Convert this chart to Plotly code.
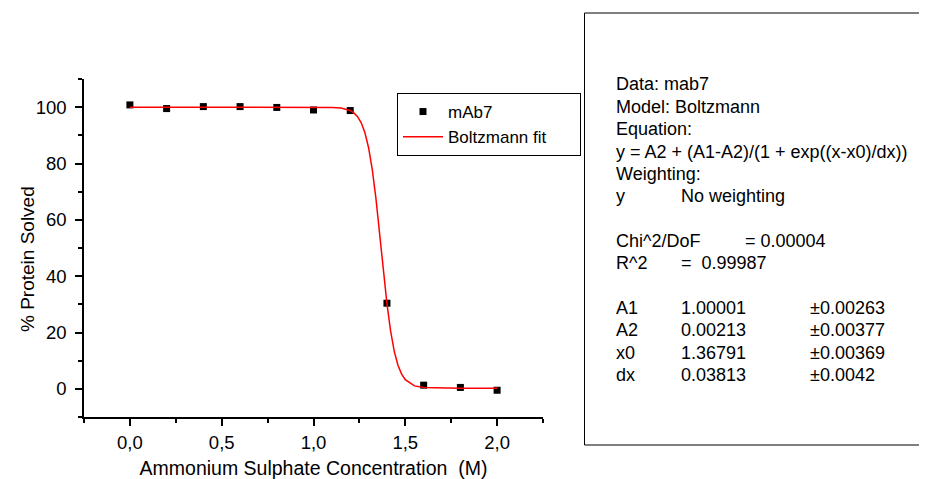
import plotly.graph_objects as go

# ---- data ----
conc = [0.0, 0.2, 0.4, 0.6, 0.8, 1.0, 1.2, 1.4, 1.6, 1.8, 2.0]
solved = [100.8, 99.5, 100.2, 100.2, 99.9, 99.0, 98.8, 30.4, 1.3, 0.5, -0.5]

fit_x = [0.0, 0.2, 0.4, 0.6, 0.8, 1.0, 1.1, 1.15, 1.2, 1.22, 1.24, 1.26, 1.28,
         1.30, 1.32, 1.34, 1.36, 1.38, 1.40, 1.42, 1.44, 1.46, 1.48, 1.50,
         1.55, 1.60, 1.70, 1.80, 2.0]
fit_y = [100.0, 100.0, 100.0, 100.0, 100.0, 99.99, 99.91, 99.67, 98.79, 97.98,
         96.64, 94.44, 90.95, 85.61, 77.89, 67.59, 55.26, 42.26, 30.27, 20.49,
         13.30, 8.40, 5.23, 3.24, 1.05, 0.44, 0.23, 0.21, 0.21]

x_tickvals = [0.0, 0.5, 1.0, 1.5, 2.0]
y_tickvals = [0, 20, 40, 60, 80, 100]

info_col1 = ["Data: mab7", "Model: Boltzmann", "Equation:",
             "y = A2 + (A1-A2)/(1 + exp((x-x0)/dx))", "Weighting:", "y",
             "Chi^2/DoF", "R^2", "A1", "A2", "x0", "dx"]
info_col2 = {"y": "No weighting", "Chi^2/DoF": "= 0.00004", "R^2": "=  0.99987",
             "A1": "1.00001", "A2": "0.00213", "x0": "1.36791", "dx": "0.03813"}
info_col3 = {"A1": "\u00b10.00263", "A2": "\u00b10.00377", "x0": "\u00b10.00369",
             "dx": "\u00b10.0042"}

# the page has an 8px body margin; lay out in window pixels
OFF = 8
W, H = 927 - OFF, 479 - OFF
FONT = "Liberation Sans, Arial, sans-serif"

def px(x):
    return (x - OFF) / W

def py(y):
    return 1 - (y - OFF) / H

PAD = "\u00a0" * 6

fig = go.Figure()
fig.add_trace(go.Scatter(
    x=conc, y=solved, mode="markers", name="mAb7",
    marker=dict(symbol="square", size=7, color="black"),
))
fig.add_trace(go.Scatter(
    x=fit_x, y=fit_y, mode="lines", name="Boltzmann fit" + PAD,
    line=dict(color="#ff0000", width=1.5),
))

axis_common = dict(
    showline=True, linecolor="black", linewidth=1.5,
    ticks="outside", ticklen=7, tickwidth=1.5, tickcolor="black",
    showgrid=False, zeroline=False, mirror=False,
    tickfont=dict(family=FONT, size=18.5, color="black"),
    automargin=False,
)

fig.update_layout(
    width=W, height=H,
    margin=dict(l=0, r=0, t=0, b=0),
    paper_bgcolor="white", plot_bgcolor="white",
    separators=",.",
    font=dict(family=FONT, size=18, color="black"),
    xaxis=dict(
        domain=[px(84), px(543)], range=[-0.25, 2.25],
        tickmode="array", tickvals=x_tickvals, tickformat=".1f",
        ticklabelstandoff=1,
        minor=dict(dtick=0.25, tick0=-0.25, ticklen=4, tickwidth=1.5,
                   tickcolor="black", ticks="outside"),
        title=dict(text="Ammonium Sulphate Concentration  (M)",
                   font=dict(family=FONT, size=19.5), standoff=15),
        **axis_common,
    ),
    yaxis=dict(
        domain=[py(417), py(79)], range=[-10, 110],
        tickmode="array", tickvals=y_tickvals,
        ticklabelstandoff=5,
        minor=dict(dtick=10, tick0=-10, ticklen=4, tickwidth=1.5,
                   tickcolor="black", ticks="outside"),
        **axis_common,
    ),
    legend=dict(
        x=px(397), y=py(93), xanchor="left", yanchor="top",
        bordercolor="black", borderwidth=1, bgcolor="white",
        font=dict(family=FONT, size=17, color="black"),
        itemwidth=40,
    ),
    showlegend=True,
)

# y-axis title placed where the reference has it
fig.add_annotation(x=px(27), y=py(259), xref="paper", yref="paper",
                   text="% Protein Solved", textangle=-90, showarrow=False,
                   xanchor="center", yanchor="middle",
                   font=dict(family=FONT, size=19))

# info box
fig.add_shape(type="rect", xref="paper", yref="paper",
              x0=px(584.5), x1=px(940), y0=py(445), y1=py(13),
              line=dict(color="black", width=1), fillcolor="rgba(0,0,0,0)")

line_y = [84, 107, 129, 152, 174, 196, 241, 263, 308, 330, 353, 375]
col2_x = {"y": 679, "Chi^2/DoF": 743, "R^2": 679, "A1": 679, "A2": 679,
          "x0": 679, "dx": 679}
TS = 18
for label, yy in zip(info_col1, line_y):
    fig.add_annotation(x=px(614), y=py(yy), xref="paper", yref="paper",
                       text=label, showarrow=False, xanchor="left",
                       yanchor="middle", font=dict(family=FONT, size=TS))
    if label in info_col2:
        fig.add_annotation(x=px(col2_x[label]), y=py(yy), xref="paper",
                           yref="paper", text=info_col2[label],
                           showarrow=False, xanchor="left", yanchor="middle",
                           font=dict(family=FONT, size=TS))
    if label in info_col3:
        fig.add_annotation(x=px(808), y=py(yy), xref="paper", yref="paper",
                           text=info_col3[label], showarrow=False,
                           xanchor="left", yanchor="middle",
                           font=dict(family=FONT, size=TS))

fig.write_html("out.html")
